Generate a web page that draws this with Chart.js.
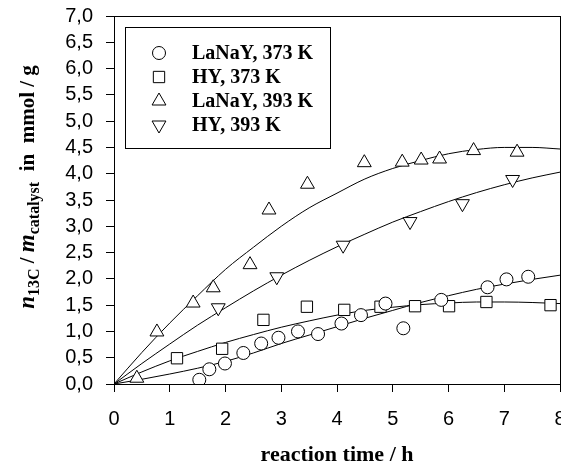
<!DOCTYPE html>
<html>
<head>
<meta charset="utf-8">
<script src="https://cdn.jsdelivr.net/npm/chart.js@4.4.1/dist/chart.umd.min.js"></script>
<style>
  html, body { margin: 0; padding: 0; background: #fff; }
  #wrap { width: 561px; height: 463px; }
</style>
</head>
<body>
<div id="wrap"><canvas id="chart" width="561" height="463"></canvas></div>
<script>
// measured points (reaction time in h, n13C/m in mmol/g)
const lanay373 = [[1.53,0.08],[1.71,0.28],[1.99,0.39],[2.32,0.59],[2.64,0.77],[2.95,0.88],[3.3,1.0],[3.66,0.95],[4.08,1.15],[4.43,1.31],[4.87,1.53],[5.19,1.06],[5.87,1.6],[6.7,1.84],[7.04,1.99],[7.43,2.04]];
const hy373 = [[1.13,0.49],[1.94,0.67],[2.68,1.22],[3.46,1.47],[4.13,1.41],[4.78,1.47],[5.4,1.48],[6.01,1.48],[6.68,1.56],[7.83,1.5]];
const lanay393 = [[0.41,0.11],[0.77,0.99],[1.42,1.54],[1.78,1.83],[2.44,2.27],[2.78,3.31],[3.47,3.8],[4.49,4.21],[5.17,4.22],[5.51,4.26],[5.84,4.28],[6.45,4.44],[7.23,4.41]];
const hy393 = [[1.87,1.45],[2.92,2.04],[4.11,2.64],[5.31,3.09],[6.25,3.43],[7.15,3.89]];

// fitted curves
const fitX = [0,0.5,1,1.5,2,2.5,3,3.5,4,4.5,5,5.5,6,6.5,7,7.5,8];
const fitLanay373 = [0,0.09,0.19,0.3,0.43,0.59,0.77,0.93,1.09,1.25,1.4,1.55,1.68,1.8,1.9,1.99,2.07];
const fitHy373 = [0,0.23,0.44,0.62,0.79,0.94,1.08,1.2,1.31,1.4,1.46,1.51,1.54,1.56,1.56,1.55,1.53];
const fitLanay393 = [0,0.6,1.16,1.68,2.18,2.6,3.0,3.35,3.63,3.9,4.1,4.25,4.38,4.46,4.5,4.5,4.47];
const fitHy393 = [0,0.39,0.76,1.12,1.45,1.77,2.07,2.35,2.61,2.85,3.08,3.28,3.47,3.64,3.79,3.92,4.03];

const yTicks = [0,0.5,1,1.5,2,2.5,3,3.5,4,4.5,5,5.5,6,6.5,7];
const xTicks = [0,1,2,3,4,5,6,7,8];
const labels = ["LaNaY, 373 K", "HY, 373 K", "LaNaY, 393 K", "HY, 393 K"];

const pts = arr => arr.map(p => ({ x: p[0], y: p[1] }));
const curve = ys => fitX.map((x, i) => ({ x: x, y: ys[i] }));

function markerSet(label, data, style, radius, rotation) {
    return {
        label: label,
        data: pts(data),
        showLine: false,
        pointStyle: style,
        pointRadius: radius,
        pointRotation: rotation || 0,
        pointBackgroundColor: "#fff",
        pointBorderColor: "#000",
        pointBorderWidth: 1,
    };
}

function fitSet(ys) {
    return {
        data: curve(ys),
        showLine: true,
        borderColor: "#000",
        borderWidth: 1,
        pointRadius: 0,
        tension: 0.4,
        cubicInterpolationMode: "monotone",
    };
}

const serif = "'Liberation Serif', 'Times New Roman', serif";
const sans = "'Liberation Sans', Arial, sans-serif";

// frame, legend box and y title
const extras = {
    id: "extras",
    afterDraw(chart) {
        const ctx = chart.ctx;
        const a = chart.chartArea;
        ctx.save();
        ctx.strokeStyle = "#000";
        ctx.lineWidth = 1;
        ctx.strokeRect(a.left + 0.5, a.top + 0.5, a.right - a.left, a.bottom - a.top);

        // legend
        ctx.strokeRect(125.5, 27.5, 205, 121);
        const rowY = [53, 77, 101, 125];
        chart.data.datasets.slice(0, 4).forEach((ds, i) => {
            ctx.fillStyle = "#fff";
            ctx.strokeStyle = "#000";
            ctx.lineWidth = 1;
            Chart.helpers.drawPoint(ctx, {
                pointStyle: ds.pointStyle,
                radius: ds.pointRadius,
                rotation: ds.pointRotation,
                borderWidth: 1,
            }, 159, rowY[i]);
            ctx.fillStyle = "#000";
            ctx.font = "bold 20px " + serif;
            ctx.textBaseline = "middle";
            ctx.textAlign = "left";
            ctx.fillText(labels[i], 192, rowY[i] + 1);
        });

        // y axis title with subscripts
        const parts = [
            { t: "n", f: "italic bold 23px " + serif, sub: false },
            { t: "13C", f: "bold 16px " + serif, sub: true },
            { t: " / ", f: "bold 21px " + serif, sub: false },
            { t: "m", f: "italic bold 23px " + serif, sub: false },
            { t: "catalyst", f: "bold 16px " + serif, sub: true },
            { t: "  in  mmol / g", f: "bold 21px " + serif, sub: false },
        ];
        let total = 0;
        parts.forEach(p => { ctx.font = p.f; p.w = ctx.measureText(p.t).width; total += p.w; });
        ctx.translate(34, 187);
        ctx.rotate(-Math.PI / 2);
        ctx.textBaseline = "alphabetic";
        ctx.textAlign = "left";
        let x = -total / 2;
        parts.forEach(p => {
            ctx.font = p.f;
            ctx.fillText(p.t, x, p.sub ? 5 : 0);
            x += p.w;
        });
        ctx.restore();
    }
};

new Chart(document.getElementById("chart"), {
    type: "scatter",
    data: {
        datasets: [
            markerSet(labels[0], lanay373, "circle", 6.5),
            markerSet(labels[1], hy373, "rect", 8),
            markerSet(labels[2], lanay393, "triangle", 8),
            markerSet(labels[3], hy393, "triangle", 8, 180),
            fitSet(fitLanay373),
            fitSet(fitHy373),
            fitSet(fitLanay393),
            fitSet(fitHy393),
        ]
    },
    options: {
        responsive: false,
        animation: false,
        layout: { autoPadding: false, padding: { left: 0, top: 16, right: 1, bottom: 0 } },
        plugins: {
            legend: { display: false },
            tooltip: { enabled: false },
        },
        scales: {
            x: {
                type: "linear",
                min: 0,
                max: 8,
                afterFit: s => { s.height = 79; s.paddingLeft = 0; s.paddingRight = 0; },
                afterBuildTicks: s => { s.ticks = xTicks.map(v => ({ value: v })); },
                grid: { drawOnChartArea: false, drawTicks: true, tickLength: 8, color: "#000" },
                border: { color: "#000", width: 1 },
                ticks: {
                    color: "#000",
                    padding: 15,
                    autoSkip: false,
                    maxRotation: 0,
                    font: { family: sans, size: 20 },
                    callback: v => String(v),
                },
                title: {
                    display: true,
                    text: "reaction time / h",
                    color: "#000",
                    font: { family: serif, size: 22, weight: "bold", lineHeight: 0.72 },
                    padding: { top: 0, bottom: 0 },
                },
            },
            y: {
                type: "linear",
                min: 0,
                max: 7,
                afterFit: s => { s.width = 114; s.paddingTop = 0; s.paddingBottom = 0; },
                afterBuildTicks: s => { s.ticks = yTicks.map(v => ({ value: v })); },
                grid: { drawOnChartArea: false, drawTicks: true, tickLength: 8, color: "#000" },
                border: { color: "#000", width: 1 },
                ticks: {
                    color: "#000",
                    padding: 13,
                    autoSkip: false,
                    font: { family: sans, size: 20 },
                    callback: v => v.toFixed(1).replace(".", ","),
                },
            },
        },
    },
    plugins: [extras],
});
</script>
</body>
</html>
